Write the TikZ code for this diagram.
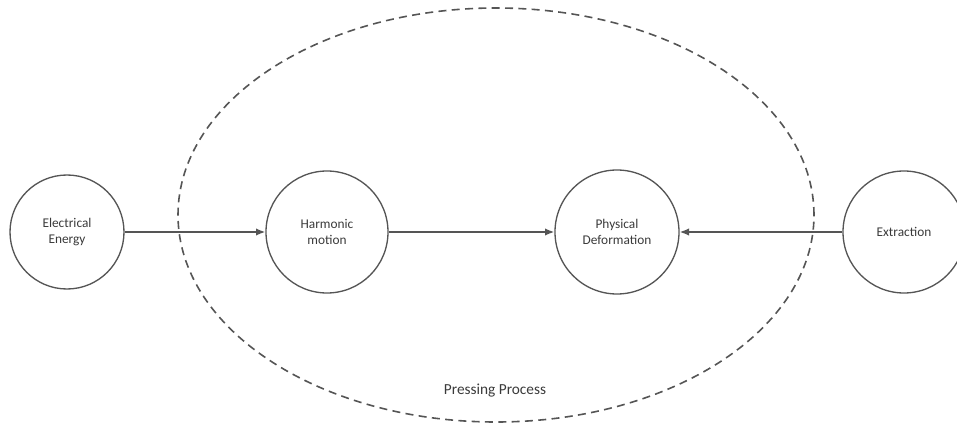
\documentclass[tikz,border=0pt]{standalone}
\usepackage{fontspec}
\setmainfont{Carlito}
\usetikzlibrary{arrows.meta}
\definecolor{edgegray}{HTML}{555555}
\definecolor{textgray}{HTML}{3A3A3A}
\begin{document}
\begin{tikzpicture}[x=0.75pt,y=-0.75pt,
  stage/.style={circle,draw=edgegray,line width=1pt,minimum size=#1*1.5pt,inner sep=0pt,
    align=center,text=textgray,font=\fontsize{10}{12.5}\selectfont},
  flow/.style={draw=edgegray,line width=1.1pt,-{Latex[length=7pt,width=5.5pt]}},
  boundary/.style={draw=edgegray,line width=1.2pt,dash pattern=on 6pt off 4pt}]
  \useasboundingbox (0,0) rectangle (957,428);
  \clip (0,0) rectangle (957,428);
  % process boundary
  \draw[boundary] (496,215) ellipse [x radius=318*0.75pt, y radius=207*0.75pt];
  \node[text=textgray,font=\fontsize{11.5}{13}\selectfont] (label) at (495,391) {Pressing Process};
  % stages
  \node[stage=57] (elec) at (67,232) {Electrical\\Energy};
  \node[stage=61] (harm) at (327,232) {Harmonic\\motion};
  \node[stage=62] (phys) at (617,232) {Physical\\Deformation};
  \node[stage=61] (extr) at (904,232) {Extraction};
  % connectors
  \draw[flow] (elec) -- (harm);
  \draw[flow] (harm) -- (phys);
  \draw[flow] (extr) -- (phys);
\end{tikzpicture}
\end{document}
